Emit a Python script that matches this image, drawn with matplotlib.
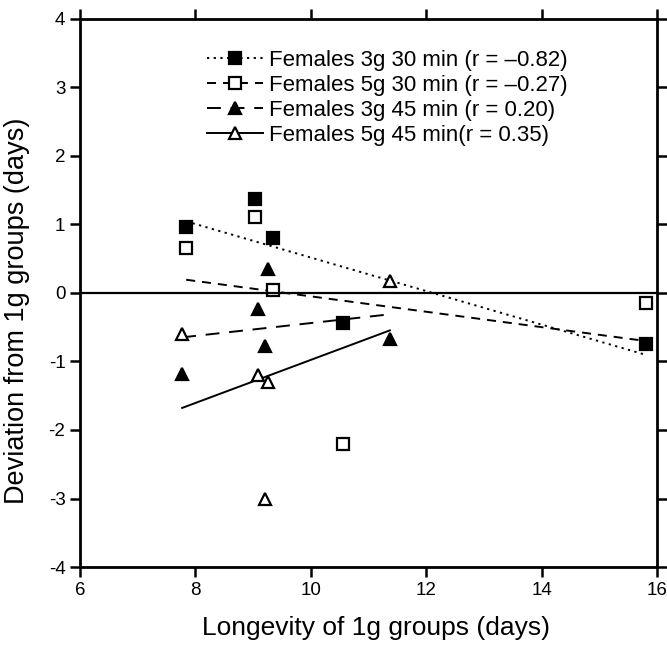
import numpy as np
import matplotlib
matplotlib.use("Agg")
import matplotlib.pyplot as plt

plt.rcParams['font.family'] = ['Liberation Sans', 'DejaVu Sans']
plt.rcParams['axes.unicode_minus'] = False
plt.rcParams['lines.scale_dashes'] = False

# Longevity of the 1g reference groups (days) and deviation of each treatment (days)
x_30 = [7.84, 9.03, 9.34, 10.56, 15.81]
x_45 = [7.77, 9.08, 9.20, 9.26, 11.37]

f3g30_dev = [0.96, 1.37, 0.80, -0.44, -0.74]
f5g30_dev = [0.66, 1.11, 0.04, -2.20, -0.15]
f3g45_dev = [-1.18, -0.24, -0.77, 0.35, -0.67]
f5g45_dev = [-0.60, -1.20, -3.00, -1.30, 0.17]

labels = [
    "Females 3g 30 min (r = \u20130.82)",
    "Females 5g 30 min (r = \u20130.27)",
    "Females 3g 45 min (r = 0.20)",
    "Females 5g 45 min(r = 0.35)",
]

x_ticks = [6, 8, 10, 12, 14, 16]
y_ticks = [-4, -3, -2, -1, 0, 1, 2, 3, 4]

series = [
    (x_30, f3g30_dev, dict(marker='s', mfc='black', dashes=(1.6, 3.2))),
    (x_30, f5g30_dev, dict(marker='s', mfc='white', dashes=(6.5, 5.0))),
    (x_45, f3g45_dev, dict(marker='^', mfc='black', dashes=(10.0, 7.0))),
    (x_45, f5g45_dev, dict(marker='^', mfc='white', dashes=())),
]

fig = plt.figure(figsize=(6.67, 6.49), dpi=100)
ax = fig.add_axes([0.12, 0.1263, 0.865, 0.8447])

handles = []
for (xs, ys, st), lab in zip(series, labels):
    xs = np.asarray(xs)
    ys = np.asarray(ys)
    # least-squares trend line over the span of each series
    slope, icpt = np.polyfit(xs, ys, 1)
    xfit = np.array([xs.min(), xs.max()])
    ls = '-' if not st['dashes'] else (0, st['dashes'])
    ax.plot(xfit, icpt + slope * xfit, color='black', lw=1.4, linestyle=ls)
    ax.plot(xs, ys, linestyle='none', marker=st['marker'], ms=8.5,
            mfc=st['mfc'], mec='black', mew=1.6)
    h, = ax.plot([], [], color='black', lw=1.4, linestyle=ls,
                 marker=st['marker'], ms=8.5, mfc=st['mfc'], mec='black', mew=1.6)
    handles.append(h)

ax.axhline(0, color='black', lw=1.6)

ax.set_xlim(6, 16)
ax.set_ylim(-4, 4)
ax.set_xticks(x_ticks)
ax.set_yticks(y_ticks)
ax.tick_params(direction='out', length=7.5, width=1.8, labelsize=13.5, pad=3,
               top=True, right=True, labeltop=False, labelright=False)
for sp in ax.spines.values():
    sp.set_linewidth(2.0)

ax.set_xlabel("Longevity of 1g groups (days)", fontsize=19)
ax.set_ylabel("Deviation from 1g groups (days)", fontsize=19.5)
ax.xaxis.set_label_coords(0.513, -0.089)
ax.yaxis.set_label_coords(-0.086, 0.468)

ax.legend(handles, labels, loc='upper left', bbox_to_anchor=(0.22, 0.944),
          frameon=False, fontsize=16, handlelength=2.5, handletextpad=0.27,
          labelspacing=0.18, borderpad=0, borderaxespad=0, numpoints=1)

fig.savefig("out.png", dpi=100)
